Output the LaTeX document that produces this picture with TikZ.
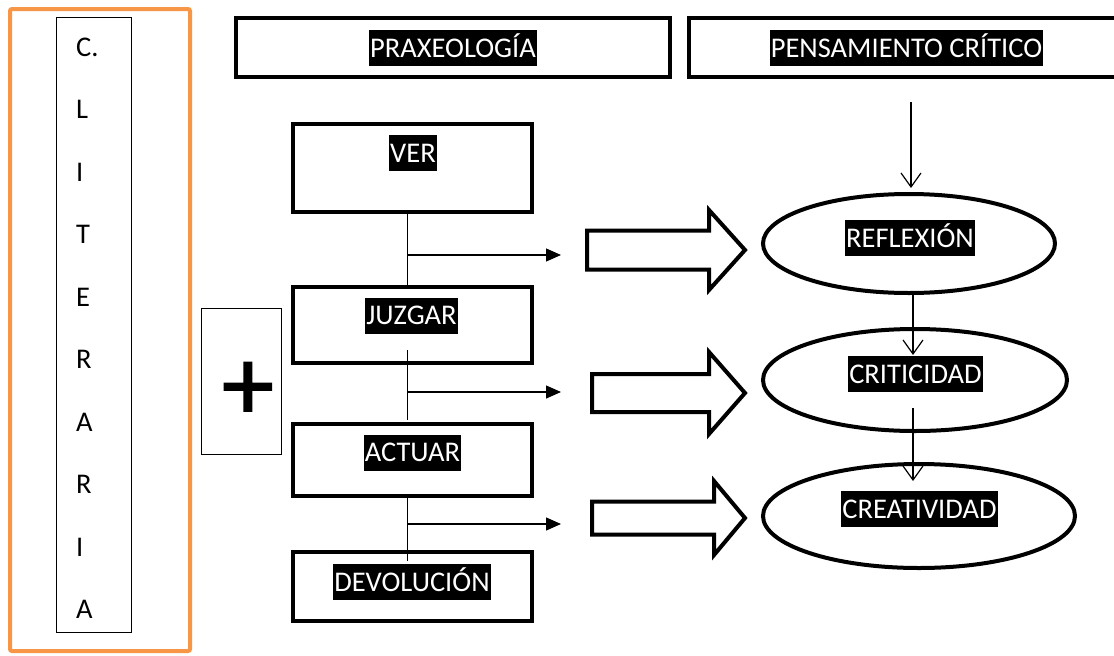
\documentclass[tikz,border=0pt]{standalone}
\usepackage{fontspec}
\setmainfont{Carlito}
\newfontfamily\plusfont[FakeBold=1.5]{Carlito}
\usetikzlibrary{arrows.meta,calc,shapes.geometric}
\definecolor{orangeframe}{HTML}{F79646}
\begin{document}
\begin{tikzpicture}[x=1pt,y=-1pt,
  box/.style={draw, line width=4pt, inner sep=0pt},
  thinbox/.style={draw, line width=1pt, inner sep=0pt},
  ell/.style={draw, ellipse, line width=4pt, inner sep=0pt},
  hl/.style={fill=black, text=white, inner xsep=1pt, inner ysep=0pt,
    text height=27pt, text depth=9pt, font=\fontsize{28.5}{34}\selectfont},
  letter/.style={inner sep=0pt, font=\fontsize{28.5}{34}\selectfont},
  conn/.style={line width=1.2pt},
  sarrow/.style={line width=1.2pt, -{Triangle[length=15pt,width=13pt]}},
  varrow/.style={line width=1.2pt, -{Straight Barb[length=14pt,width=20pt,line width=1.2pt]}},
  blockarrow/.style={draw, line width=4pt, line join=miter, miter limit=10}
]
\clip (0,0) rectangle (1114,656);

% left frame
\node[draw=orangeframe, line width=4pt, rounded corners=2pt, inner sep=0pt,
      minimum width=180pt, minimum height=642pt] (frame) at (100,330) {};
\node[thinbox, minimum width=75pt, minimum height=615pt] (clit) at (93.5,324.5) {};
\foreach \l [count=\i] in {C.,L,I,T,E,R,A,R,I,A}
  \node[letter, anchor=base west] (l\i) at (76,{56+62.5*(\i-1)}) {\l};

% header boxes
\node[box, minimum width=434pt, minimum height=59pt] (prax) at (453,47.5) {};
\node[hl] (lprax) at (453,48) {PRAXEOLOGÍA};
\node[box, minimum width=441pt, minimum height=59pt] (pens) at (909.5,47.5) {};
\node[hl] (lpens) at (906.5,48) {PENSAMIENTO CRÍTICO};

% praxeology steps
\node[box, minimum width=239pt, minimum height=88pt] (ver) at (412.5,168) {};
\node[hl] (lver) at (413,153) {VER};
\node[box, minimum width=239pt, minimum height=76pt] (juz) at (412.5,325) {};
\node[hl] (ljuz) at (411.5,315.5) {JUZGAR};
\node[box, minimum width=239pt, minimum height=72pt] (act) at (412.5,460) {};
\node[hl] (lact) at (412.5,452.5) {ACTUAR};
\node[box, minimum width=239pt, minimum height=69pt] (dev) at (412.5,586.5) {};
\node[hl] (ldev) at (412,582) {DEVOLUCIÓN};

% plus box
\node[thinbox, minimum width=80pt, minimum height=146pt] (plusbox) at (241,381) {};
\node[inner sep=0pt, font=\fontsize{104}{104}\plusfont] (plus) at (248,391) {+};

% vertical chain
\draw[conn] ([xshift=-5pt]ver.south) -- ([xshift=-5pt,yshift=-1pt]juz.north);
\draw[conn] ([xshift=-5pt,yshift=15pt]juz.south) -- ([xshift=-5pt,yshift=2pt]act.north);
\draw[conn] ([xshift=-5pt,yshift=3pt]act.south) -- ([xshift=-5pt,yshift=-11pt]dev.north);

% small branch arrows
\coordinate (b1) at (407.5,255);  \coordinate (t1) at (561,255);
\coordinate (b2) at (407.5,392);  \coordinate (t2) at (561,392);
\coordinate (b3) at (407.5,524);  \coordinate (t3) at (561,524);
\draw[sarrow] (b1) -- (t1);
\draw[sarrow] (b2) -- (t2);
\draw[sarrow] (b3) -- (t3);

% block arrows
\draw[blockarrow] (587,230.5) -- (709,230.5) -- (709,210) -- (745,250) -- (709,290) -- (709,269.5) -- (587,269.5) -- cycle;
\draw[blockarrow] (592,374) -- (709,374) -- (709,352) -- (745,393) -- (709,434) -- (709,412) -- (592,412) -- cycle;
\draw[blockarrow] (592,501.5) -- (714,501.5) -- (714,481) -- (745,518) -- (714,555) -- (714,534.5) -- (592,534.5) -- cycle;

% ellipses
\node[ell, minimum width=292pt, minimum height=99pt] (refl) at (909,243.5) {};
\node[hl] (lrefl) at (910,238) {REFLEXIÓN};
\node[ell, minimum width=304pt, minimum height=102pt] (crit) at (915,380) {};
\node[hl] (lcrit) at (915.5,374) {CRITICIDAD};
\node[ell, minimum width=312pt, minimum height=104pt] (crea) at (919,516) {};
\node[hl] (lcrea) at (919.5,509) {CREATIVIDAD};

% right arrows
\draw[varrow] ($(pens.south)+(1.5,23)$) -- ($(pens.south |- refl.north)+(1.5,-4)$);
\draw[varrow] ($(refl.south)+(4,0)$) -- ($(refl.south |- crit.north)+(4,28)$);
\draw[varrow] ($(crit.south)+(-2,-25)$) -- ($(crit.south |- crea.north)+(-2,19)$);
\end{tikzpicture}
\end{document}
